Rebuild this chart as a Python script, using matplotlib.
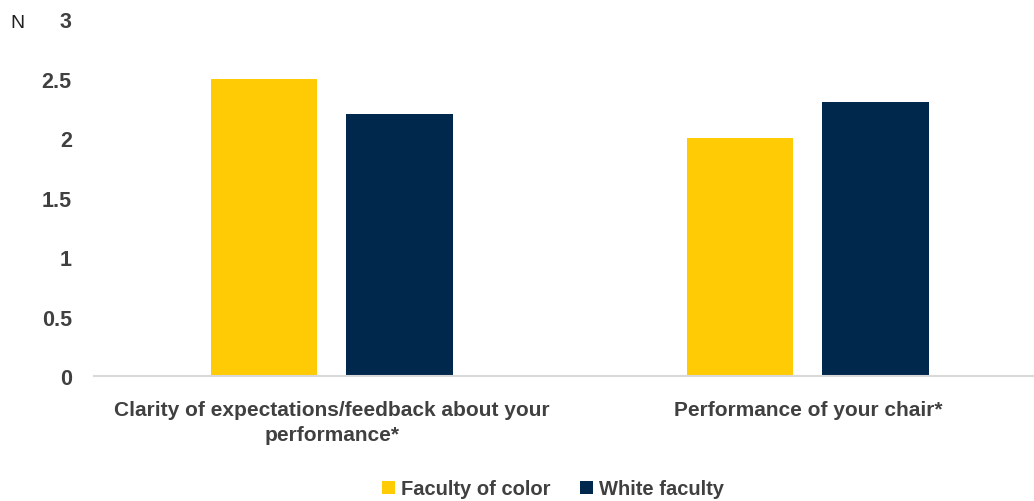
import matplotlib.pyplot as plt
import numpy as np

categories = ['Clarity of expectations/feedback about your\nperformance*', 'Performance of your chair*']
faculty_of_color = [2.5, 2.0]
white_faculty = [2.2, 2.3]
yticks = [0, 0.5, 1, 1.5, 2, 2.5, 3]
ytick_labels = ['0', '0.5', '1', '1.5', '2', '2.5', '3']

plt.rcParams['font.family'] = ['Liberation Sans', 'DejaVu Sans']
text_color = '#404040'

fig = plt.figure(figsize=(10.34, 5.02), dpi=100)
ax = fig.add_axes([94/1034, 0.249, 1 - 94/1034, 0.711])

x = np.arange(len(categories))
w = 0.223
off = 0.142
ax.bar(x - off, faculty_of_color, w, color='#FFCB05', label='Faculty of color')
ax.bar(x + off, white_faculty, w, color='#00274C', label='White faculty')

ax.set_xlim(-0.5, 1.475)
ax.set_ylim(0, 3)
ax.set_yticks(yticks)
ax.set_yticklabels(ytick_labels, fontsize=15.5, fontweight='bold', color=text_color)
ax.set_xticks(x)
ax.set_xticklabels(categories, fontsize=15, fontweight='bold', color=text_color, linespacing=1.45)
ax.tick_params(axis='both', length=0)
ax.tick_params(axis='y', pad=16)
ax.tick_params(axis='x', pad=17)
for s in ['top', 'right', 'left']:
    ax.spines[s].set_visible(False)
ax.spines['bottom'].set_color('#d9d9d9')
ax.spines['bottom'].set_linewidth(1.5)

fig.text(17.5/1034, 1 - 24/502, 'N', fontsize=14, color='#202020', va='center', ha='center')

leg = fig.legend(loc='center', bbox_to_anchor=(553/1034, 1 - 490/502), ncol=2, frameon=False,
                 prop={'size': 14.5, 'weight': 'bold'}, handlelength=0.65, handleheight=0.65,
                 handletextpad=0.3, columnspacing=1.5)
for t in leg.get_texts():
    t.set_color(text_color)

plt.savefig('out.png', dpi=100)
